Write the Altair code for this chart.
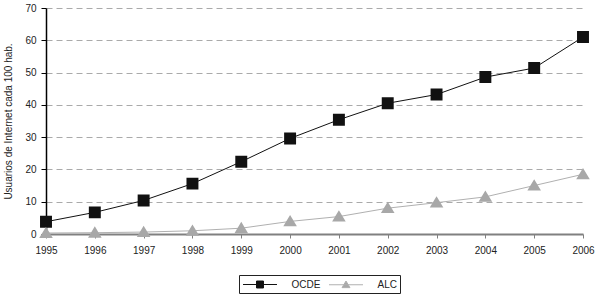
import altair as alt
import pandas as pd

years = [1995, 1996, 1997, 1998, 1999, 2000, 2001, 2002, 2003, 2004, 2005, 2006]
ocde = [3.8, 6.7, 10.4, 15.6, 22.4, 29.6, 35.4, 40.5, 43.2, 48.6, 51.4, 61.0]
alc = [0.3, 0.4, 0.6, 1.0, 1.8, 3.9, 5.4, 8.0, 9.7, 11.5, 15.0, 18.5]
series_names = ["OCDE", "ALC"]
series_colors = ["#111111", "#a8a8a8"]
line_colors = ["#111111", "#b0b0b0"]

rows = []
for y, a, b in zip(years, ocde, alc):
    rows.append({"year": y, "series": "OCDE", "value": a})
    rows.append({"year": y, "series": "ALC", "value": b})
df = pd.DataFrame(rows)

FONT = "Liberation Sans"

# marker shapes with a line stub (stub only visible in the legend)
sq_path = "M-2.83,0H2.83M-0.58,-0.58H0.58V0.58H-0.58Z"
tri_path = "M-2.83,0H2.83M0,-0.62L0.66,0.48L-0.66,0.48Z"

x_enc = alt.X("year:O", scale=alt.Scale(padding=0),
              axis=alt.Axis(title=None, labelAngle=0, domainColor="#808080", domainWidth=2,
                            tickColor="#808080", tickSize=4, labelPadding=7, grid=False))
y_enc = alt.Y("value:Q", scale=alt.Scale(domain=[0, 70], nice=False),
              axis=alt.Axis(title="Usuarios de Internet cada 100 hab.", values=[0, 10, 20, 30, 40, 50, 60, 70],
                            domainColor="#000000", domainWidth=1.5, tickColor="#000000", tickSize=5,
                            grid=True, gridColor="#aaaaaa", gridDash=[6, 4], gridWidth=1,
                            labelPadding=5, titlePadding=11))

line_layers = []
for name, col in zip(series_names, line_colors):
    line_layers.append(
        alt.Chart(df).transform_filter(alt.datum.series == name)
        .mark_line(strokeWidth=1, color=col).encode(x=x_enc, y=y_enc)
    )

legend = alt.Legend(title=None, orient="none", legendX=193, legendY=267, direction="horizontal",
                    symbolSize=144, symbolStrokeWidth=1, symbolOffset=11.5,
                    labelFont=FONT, labelFontSize=10, labelColor="#222222", labelOffset=25,
                    strokeColor="#222222", padding=3, columnPadding=6, fillColor="white")

points = alt.Chart(df).mark_point(filled=True, size=424, strokeWidth=0, opacity=1).encode(
    x=x_enc, y=y_enc,
    fill=alt.Fill("series:N", scale=alt.Scale(domain=series_names, range=series_colors), legend=legend),
    stroke=alt.Stroke("series:N", scale=alt.Scale(domain=series_names, range=line_colors), legend=legend),
    shape=alt.Shape("series:N", scale=alt.Scale(domain=series_names, range=[sq_path, tri_path]), legend=legend),
)

chart = alt.layer(*line_layers, points).properties(
    width=537, height=226,
    autosize=alt.AutoSizeParams(type="none"),
    padding={"left": 46, "top": 8, "right": 13, "bottom": 67},
).configure_view(stroke=None).configure_axis(
    labelFont=FONT, labelFontSize=10, labelColor="#222222",
    titleFont=FONT, titleFontSize=10, titleFontWeight="normal", titleColor="#222222",
)

chart.save("out.html", embed_options={"renderer": "svg", "actions": False})
